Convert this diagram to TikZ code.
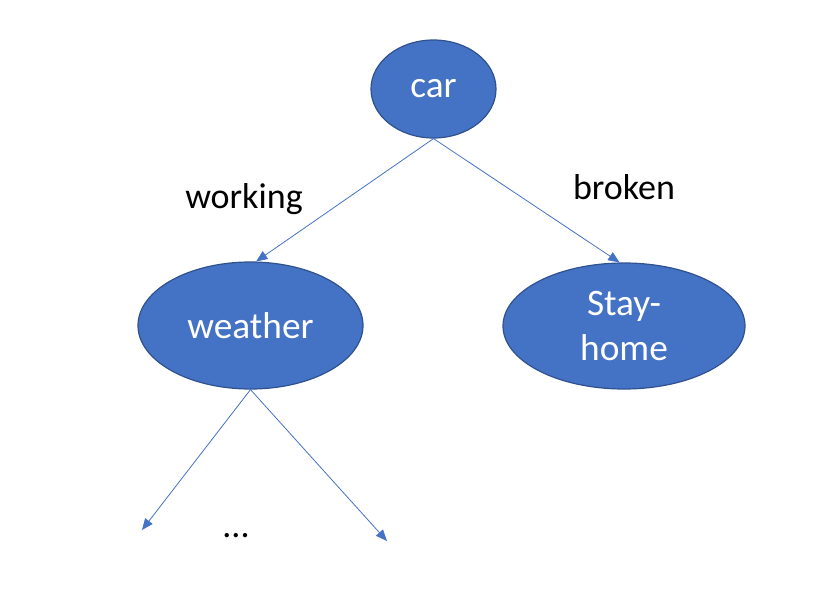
\documentclass[tikz,border=0pt]{standalone}
\usepackage{fontspec}
\setmainfont{Carlito}
\usepackage{tikz}
\usetikzlibrary{arrows.meta,shapes.geometric}
\definecolor{NodeBlue}{HTML}{4472C4}
\definecolor{NodeEdge}{HTML}{2F528F}
\newcommand{\MainColor}{NodeBlue}

\begin{document}
\begin{tikzpicture}[line cap=round,line join=round,>={Triangle[length=8.5pt,width=7pt]},
  x=0.75pt,y=-0.75pt,
  state/.style={ellipse,draw=NodeEdge,line width=0.9pt,fill=\MainColor,
    text=white,inner sep=0pt,font=\fontsize{28}{34}\selectfont,align=center},
  branch/.style={->,color=\MainColor,line width=0.6pt},
  lbl/.style={font=\fontsize{27}{32}\selectfont}]
  \useasboundingbox (0,0) rectangle (822,600);
  \node[state,minimum width=93.75pt,minimum height=73.5pt] (car) at (433.5,89) {car};
  \node[state,minimum width=168.75pt,minimum height=95.25pt] (weather) at (250.5,325.5) {weather};
  \node[state,minimum width=181.5pt,minimum height=94.5pt] (stay) at (624,326) {Stay-\\home};
  \coordinate (low left) at (142,530);
  \coordinate (low right) at (387,541);
  \draw [branch] (car.south) -- (weather.85);
  \draw [branch] (car.south) -- (stay.94);
  \draw [branch] (weather.south) -- (low left);
  \draw [branch] (weather.south) -- (low right);
  \node[lbl] (working) at (244,199) {working};
  \node[lbl] (broken) at (624,187) {broken};
  \node[lbl] (dots) at (236,536) {...};
\end{tikzpicture}
\end{document}
